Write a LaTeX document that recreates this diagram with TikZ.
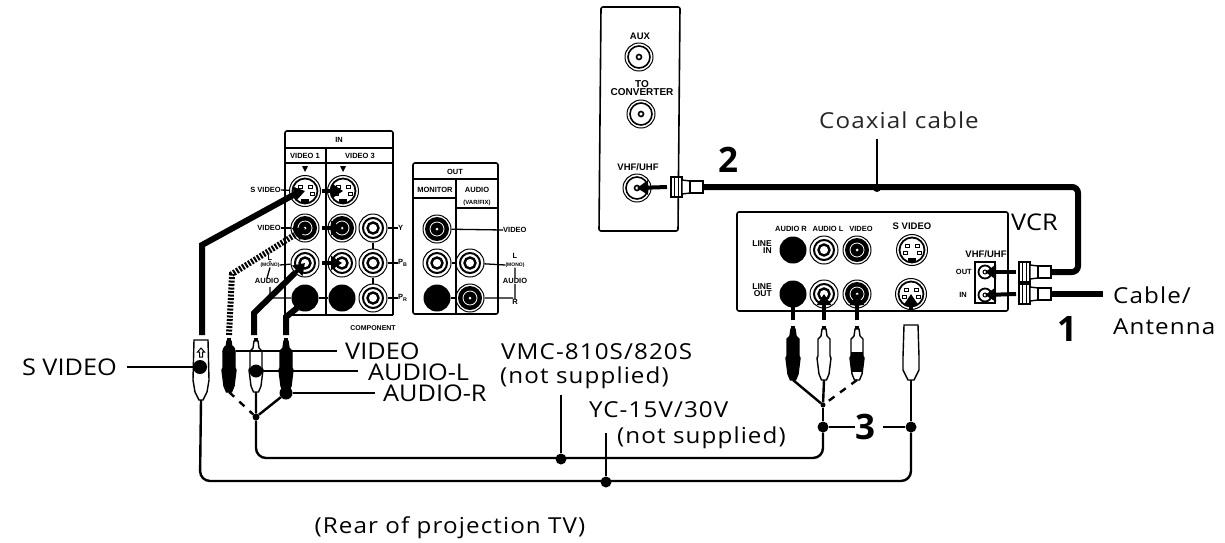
\documentclass[tikz,border=0pt]{standalone}
\usepackage{fontspec}
\setmainfont{Open Sans}[FakeStretch=1.1]
\newfontfamily\spc{Open Sans}[FakeStretch=1.1,LetterSpace=5]
\newfontfamily\numf{Open Sans}
\newfontfamily\smallf{Liberation Sans}
\usetikzlibrary{arrows.meta,calc}
\newcommand{\fs}[1]{\fontsize{#1}{#1}\selectfont}
\tikzset{
 panel/.style={draw,line width=1.6pt,rounded corners=2pt},
 rule/.style={line width=1.3pt},
 lead/.style={line width=1.8pt},
 wire/.style={line width=2.4pt},
 fat/.style={line width=6pt},
 big/.style={inner sep=0pt,font=\fs{23}},
 mid/.style={inner sep=0pt,font=\spc\fs{22}},
 num/.style={inner sep=0pt,font=\numf\fs{35}\bfseries},
 tiny/.style={inner sep=0pt,font=\smallf\bfseries\fs{7.5}},
 lab/.style={inner sep=0pt,font=\smallf\bfseries\fs{9.5}},
 dot/.style={circle,fill=black,inner sep=0pt,minimum size=8pt},
 arr/.style={line width=4pt,-{Triangle[length=11pt,width=14pt]}},
 jackhole/.style={circle,inner sep=0pt,minimum size=#1},
}
% white RCA jack
\newcommand{\wjack}[3]{%
 \node[jackhole=28pt,draw,line width=1pt] (#1) at (#2,#3) {};
 \draw[line width=2pt] (#2,#3) circle (10pt);
 \draw[line width=2.4pt] (#2,#3) circle (5.5pt);}
% dark RCA jack
\newcommand{\djack}[3]{%
 \node[jackhole=28pt,draw,line width=1pt] (#1) at (#2,#3) {};
 \fill (#2,#3) circle (12pt);
 \draw[white,line width=.8pt] (#2,#3) circle (7pt);
 \fill[white] (#2,#3) circle (1.5pt);}
% black RCA jack
\newcommand{\bjack}[3]{%
 \node[jackhole=27pt,fill=black] (#1) at (#2,#3) {};}
% coaxial jack
\newcommand{\cjack}[3]{%
 \node[jackhole=28pt,draw,line width=1pt] (#1) at (#2,#3) {};
 \draw[line width=1.6pt] (#2,#3) circle (11pt);
 \draw[line width=1.6pt] (#2,#3) circle (2.5pt);}
% small coaxial jack
\newcommand{\vjack}[3]{%
 \node[jackhole=13pt,draw,line width=1.8pt] (#1) at (#2,#3) {};
 \draw[line width=1pt] (#2,#3) circle (2pt);}
% S video jack
\newcommand{\sjack}[3]{%
 \node[jackhole=31pt,draw,line width=1pt] (#1) at (#2,#3) {};
 \draw[line width=1.8pt] (#2,#3) circle (12.5pt);
 \draw[line width=1pt] ($(#2,#3)+(-7,-6)$) rectangle ++(4,3);
 \draw[line width=1pt] ($(#2,#3)+(3,-6)$) rectangle ++(4,3);
 \draw[line width=1pt] ($(#2,#3)+(-9,1)$) rectangle ++(4,3);
 \draw[line width=1pt] ($(#2,#3)+(5,1)$) rectangle ++(4,3);
 \fill ($(#2,#3)+(-4,8)$) rectangle ++(8,4);}
% RCA plug: name, x, top y, body colour
\newcommand{\rcaplug}[4]{%
 \begin{scope}[shift={(#2,#3)}]
 \fill (-2,0) rectangle (2,10);
 \draw[line width=1.4pt,fill=#4] (-2,3)--(-3,10)--(-6,13)--(-6,30)--(-7,32)--(-5,48)--(-2.5,54)--(2.5,54)--(5,48)--(7,32)--(6,30)--(6,13)--(3,10)--(2,3)--cycle;
 \coordinate (#1) at (0,54);
 \end{scope}}
% coax connector, pointing left; name, left x, y
\newcommand{\coax}[3]{%
 \begin{scope}[shift={(#2,#3)}]
 \draw[line width=1.4pt,fill=white] (0,-10) rectangle (11,10);
 \draw[line width=1pt] (3.5,-10)--(3.5,10) (7,-10)--(7,10);
 \draw[line width=1.4pt,fill=white] (11,-7)--(19,-6)--(19,6)--(11,7)--cycle;
 \draw[line width=1.4pt,fill=white] (19,-6) rectangle (32,6);
 \coordinate (#1) at (32,0);
 \end{scope}}
\begin{document}
\begin{tikzpicture}[x=1pt,y=-1pt]
\useasboundingbox (0,0) rectangle (1225,542);
%---- IN panel
\draw[panel] (285,315)--(285,131)--(393,131)--(393,315);
\draw[rule] (285,148)--(393,148) (285,163)--(393,163) (326,148)--(326,315) (285,315)--(393,315);
\node[tiny] (tIn) at (339,140) {IN};
\node[tiny] (tV1) at (305,156) {VIDEO 1};
\node[tiny] (tV3) at (360,156) {VIDEO 3};
\fill (302,166)--(308,166)--(305,172)--cycle (340,166)--(346,166)--(343,172)--cycle;
\sjack{s1}{305}{191}
\sjack{s3}{343}{191}
\djack{v1}{305}{228}
\djack{v3}{342}{228}
\wjack{y}{373}{228}
\wjack{a1}{305}{263}
\wjack{a3}{342}{263}
\wjack{pb}{373}{263}
\bjack{r1}{305}{298}
\bjack{r3}{342}{298}
\wjack{pr}{373}{298}
\draw[rule] (y)--(pb) (pb)--(pr) (r1)--(r3);
\node[tiny,anchor=east] (tSV) at (281,190) {S VIDEO};
\draw[rule] (tSV.east)--(s1);
\node[tiny,anchor=east] (tVid) at (281,228) {VIDEO};
\draw[rule] (tVid.east)--(v1);
\node[tiny] (tL) at (270,258) {L};
\node[inner sep=0pt,font=\smallf\bfseries\fs{5}] (tMono) at (270,265) {(MONO)};
\node[tiny] (tAud) at (267,281) {AUDIO};
\draw[rule] (tL.south)--(tMono.north) (tMono.south)--(tAud.north) (tMono.east)--(a1) (270,287)--(270,298)--(r1);
\node[tiny,anchor=west] (tY) at (398,228) {Y};
\node[tiny,anchor=west] (tPb) at (398,263) {P\textsubscript{B}};
\node[tiny,anchor=west] (tPr) at (398,298) {P\textsubscript{R}};
\draw[rule] (y)--(tY.west) (pb)--(tPb.west) (pr)--(tPr.west);
\node[inner sep=0pt,font=\smallf\bfseries\fs{7}] (tComp) at (373,328) {COMPONENT};
%---- OUT panel
\draw[panel] (413,163) rectangle (498,314);
\draw[rule] (413,179)--(498,179) (456,179)--(456,314) (413,198)--(456,198) (456,208)--(498,208);
\node[tiny] (tOut) at (455,172) {OUT};
\node[tiny] (tMon) at (435,190) {MONITOR};
\node[tiny] (tAu) at (477,190) {AUDIO};
\node[inner sep=0pt,font=\smallf\bfseries\fs{6}] (tVar) at (477,203) {(VAR/FIX)};
\djack{mv}{437}{229}
\wjack{ml}{437}{263}
\wjack{al}{470}{263}
\bjack{mr}{437}{298}
\djack{ar}{470}{298}
\draw[rule] (ml)--(al) (mr)--(ar);
\node[tiny,anchor=west] (tOV) at (503,230) {VIDEO};
\node[tiny] (tOL) at (515,256) {L};
\node[inner sep=0pt,font=\smallf\bfseries\fs{5}] (tOM) at (515,265) {(MONO)};
\node[tiny] (tOA) at (515,281) {AUDIO};
\node[tiny] (tOR) at (515,302) {R};
\draw[rule] (mv)--(tOV.west) (al)--(tOM.west) (ar)--(513,298) (tOM.south)--(tOA.north) (tOA.south)--(tOR.north);
%---- top panel
\draw[panel] (601,7)--(680,7)--(678,231)--(599,231)--cycle;
\node[lab] (tAux) at (640,36) {AUX};
\node[inner sep=0pt,align=center,font=\smallf\bfseries\fs{10}] (tConv) at (642,88) {TO\\[-2pt]CONVERTER};
\node[lab] (tVU) at (638,167) {VHF/UHF};
\cjack{aux}{639}{57}
\cjack{conv}{641}{114}
\cjack{vu}{637}{188}
\node[num] (n2) at (728,160) {2};
\coax{cA}{671}{187}
\draw[arr] (667,187)--(vu.center);
%---- VCR panel
\draw[panel] (737,212) rectangle (1008,311);
\node[tiny] (tAR) at (791,229) {AUDIO R};
\node[tiny] (tAL) at (828,229) {AUDIO L};
\node[tiny] (tVV) at (861,229) {VIDEO};
\node[lab] (tSS) at (912,226) {S VIDEO};
\node[inner sep=0pt,align=right,font=\smallf\bfseries\fs{8.5}] (tLI) at (762,247) {LINE\\[-1pt]IN};
\node[inner sep=0pt,align=right,font=\smallf\bfseries\fs{8.5}] (tLO) at (762,290) {LINE\\[-1pt]OUT};
\bjack{ir}{793}{250}
\wjack{il}{824}{250}
\djack{iv}{857}{250}
\sjack{is}{912}{250}
\bjack{or}{793}{294}
\wjack{ol}{824}{294}
\djack{ov}{857}{294}
\sjack{os}{911}{294}
\node[lab] (tVH) at (986,254) {VHF/UHF};
\draw[rule] (975,262) rectangle (995,303);
\node[tiny,anchor=east] (tO) at (972,272) {OUT};
\node[tiny,anchor=east] (tI) at (967,295) {IN};
\vjack{jo}{985}{272}
\vjack{ji}{985}{295}
\node[big,anchor=west] (tVCR) at (1011,222) {VCR};
\coax{cO}{1019}{272}
\coax{cI}{1019}{294}
\draw[arr] (1016,272)--(jo.center);
\draw[arr] (1016,294)--(ji.center);
%---- coax wires
\draw[fat,rounded corners=6pt] (cA)--(1078,187)--(1078,272)--(cO);
\draw[fat] (cI)--(1103,294);
\node[mid,anchor=west] (tCab) at (1113,295) {Cable/};
\node[mid,anchor=west] (tAnt) at (1113,327) {Antenna};
\node[num] (n1) at (1067,329) {1};
\node[mid,text=black!85] (tCo) at (899,120) {Coaxial cable};
\node[dot] (dCo) at (877,188) {};
\draw[lead] (877,139)--(dCo);
%---- VCR plugs and arrows
\draw[arr] (793,320)--(or.center);
\draw[arr] (824,320)--(ol.center);
\draw[arr] (857,320)--(ov.center);
\draw[arr] (911,311)--(os.center);
\rcaplug{pR}{793}{326}{black}
\rcaplug{pL}{824}{326}{white}
\rcaplug{pV}{857}{326}{white}
\fill (851,352) rectangle (863,372);
\begin{scope}[shift={(911,325)}]
\draw[line width=1.4pt,fill=white] (-7,0)--(7,0)--(8,32)--(8,45)--(3,55)--(-3,55)--(-8,45)--(-8,32)--cycle;
\coordinate (pS) at (0,55);
\end{scope}
\node[dot,minimum size=5pt] (jY) at (823,405) {};
\draw[wire] (pR)--(jY) (pL)--(jY);
\draw[wire,dash pattern=on 7pt off 7pt] (pV)--(jY);
\node[dot,minimum size=11pt] (jA) at (823,427) {};
\node[num] (n3) at (865,427) {3};
\node[dot,minimum size=11pt] (jB) at (911,427) {};
\coordinate (n3r) at (883,427);
\draw[wire] (jY)--(jA) (jA)--(n3.west) (n3r)--(jB) (pS)--(jB);
%---- TV plugs
\draw[fat] (202,335)--(202,245)--(297,193);
\draw[arr] (297,193)--(s1.center);
\draw[arr] (322,191)--(s3.center);
\draw[line width=6pt,dash pattern=on 2pt off 1.5pt] (229,335)--(232,274)--(296,234);
\draw[arr] (296,234)--(v1.center);
\draw[arr] (322,228)--(v3.center);
\draw[fat] (254,335)--(254,313)--(295,273);
\draw[arr] (295,273)--(a1.center);
\draw[arr] (322,263)--(a3.center);
\draw[fat] (286,335)--(286,317)--(297,308);
\draw[arr] (297,308)--(r1.center);
\begin{scope}[shift={(201,340)}]
\draw[line width=1.4pt,fill=white] (-7,0)--(7,0)--(8,40)--(6,52)--(2,60)--(-2,60)--(-6,52)--(-8,40)--cycle;
\draw[line width=1pt] (0,8)--(-3.5,12)--(-1.5,12)--(-1.5,17)--(1.5,17)--(1.5,12)--(3.5,12)--cycle;
\coordinate (pS2) at (0,60);
\end{scope}
\node[dot,minimum size=14pt] (dS) at (200,367) {};
\rcaplug{pV2}{229}{338}{black}
\rcaplug{pL2}{256}{338}{white}
\rcaplug{pR2}{286}{338}{black}
\node[dot,minimum size=13pt] (dL) at (256,371) {};
\node[dot,minimum size=13pt] (dR) at (286,393) {};
\node[dot,minimum size=13pt] (dV) at (229,351) {};
\node[big,anchor=west] (tV) at (345,351) {VIDEO};
\node[big,anchor=west] (tLL) at (368,372) {AUDIO-L};
\node[big,anchor=west] (tRR) at (383,393) {AUDIO-R};
\draw[lead] (dV)--(337,351);
\draw[lead] (dL)--(358,371);
\draw[lead] (dR)--(375,393);
\node[big,anchor=east] (tSL) at (117,367) {S VIDEO};
\coordinate (sLead) at (127,367);
\draw[wire] (sLead)--(dS);
\node[dot,minimum size=7pt] (jC) at (256,417) {};
\draw[wire] (dR)--(jC) (pL2)--(jC);
\draw[wire,dash pattern=on 7pt off 7pt] (pV2)--(jC);
\draw[wire,rounded corners=10pt] (jC)--(256,458)--(823,458)--(jA);
\draw[wire,rounded corners=10pt] (pS2)--(200,481)--(911,481)--(jB);
%---- labels of the cables
\node[mid,anchor=west] (tVmc) at (501,352) {VMC-810S/820S};
\node[mid,anchor=west] (tNs) at (500,378) {(not supplied)};
\node[mid,anchor=west] (tYc) at (589,410) {YC-15V/30V};
\node[mid,anchor=west] (tNs2) at (617,438) {(not supplied)};
\node[dot,minimum size=11pt] (dVmc) at (561,459) {};
\node[dot,minimum size=11pt] (dYc) at (606,482) {};
\draw[lead] (561,395)--(dVmc);
\draw[lead] (606,433)--(dYc);
\node[mid] (tRear) at (450,528) {(Rear of projection TV)};
\end{tikzpicture}
\end{document}
